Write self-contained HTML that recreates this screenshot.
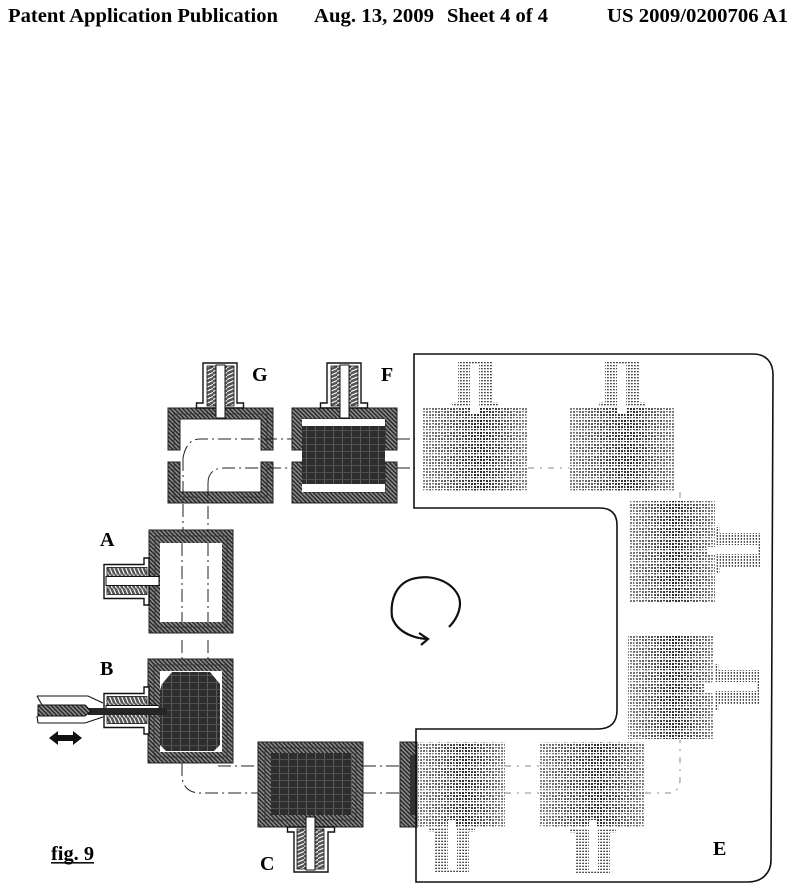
<!DOCTYPE html>
<html><head><meta charset="utf-8"><style>
html,body{margin:0;padding:0;background:#fff;width:805px;height:888px;overflow:hidden}
svg{display:block}
text{font-family:"Liberation Serif",serif;font-weight:bold;fill:#000}
</style></head><body>
<svg width="805" height="888" viewBox="0 0 805 888" xmlns="http://www.w3.org/2000/svg">
<defs>
<pattern id="h" width="3" height="3" patternUnits="userSpaceOnUse" patternTransform="rotate(45)">
<rect width="3" height="3" fill="#8c8c8c"/><rect width="3" height="1.5" fill="#2a2a2a"/>
</pattern>
<pattern id="d" width="9" height="7" patternUnits="userSpaceOnUse">
<rect width="9" height="7" fill="#2e2e2e"/><rect width="1" height="7" fill="#5c5c5c"/><rect width="9" height="1" y="3" fill="#505050"/>
</pattern>
<pattern id="g" width="9" height="12" patternUnits="userSpaceOnUse">
<rect width="9" height="12" fill="#fff"/>
<g fill="#2a2a2a">
<rect x="0" y="0" width="2" height="2"/><rect x="3" y="0" width="2" height="2"/><rect x="6" y="0" width="2" height="1.4"/>
<rect x="0" y="3" width="2" height="1.3"/><rect x="3" y="3" width="2" height="2"/><rect x="6" y="3" width="2" height="2"/>
<rect x="0" y="6" width="2" height="2"/><rect x="3" y="6" width="1.4" height="2"/><rect x="6" y="6" width="2" height="2"/>
<rect x="0" y="9" width="1.4" height="1.3"/><rect x="3" y="9" width="2" height="1.2"/><rect x="6" y="9" width="2" height="1.5"/>
</g>
</pattern>
<pattern id="g2" width="3" height="3" patternUnits="userSpaceOnUse">
<rect width="3" height="3" fill="#fff"/><rect width="1.8" height="1.3" fill="#444"/>
</pattern>
<pattern id="s" width="7" height="4" patternUnits="userSpaceOnUse">
<rect width="7" height="4" fill="#555"/><path d="M0 3.5L7 .5" stroke="#fff" stroke-width="1.1"/>
</pattern>
<linearGradient id="fade" x1="0" y1="0" x2="1" y2="0">
<stop offset="0" stop-color="#fff" stop-opacity=".4"/><stop offset=".55" stop-color="#fff" stop-opacity="0"/><stop offset="1" stop-color="#fff" stop-opacity=".4"/>
</linearGradient>
<g id="n">
<path d="M-23.5 0V-5H-17V-45H17V-5H23.5V0Z" fill="#fff" stroke="#111" stroke-width="1.4"/>
<rect x="-13" y="-42" width="9" height="40" fill="url(#s)" stroke="#111" stroke-width=".8"/>
<rect x="5" y="-42" width="9" height="40" fill="url(#s)" stroke="#111" stroke-width=".8"/>
<rect x="-4" y="-43" width="9" height="53" fill="#fff" stroke="#111" stroke-width="1"/>
</g>
<g id="gn">
<path d="M-23 0V-5H-17V-45H17V-5H23V0Z" fill="url(#g2)"/>
<rect x="-5" y="-42" width="9" height="52" fill="#fff"/>
</g>
</defs>
<rect width="805" height="888" fill="#fff"/>

<text x="8" y="22" font-size="20" textLength="270" lengthAdjust="spacingAndGlyphs">Patent Application Publication</text>
<text x="314" y="22" font-size="20" textLength="120" lengthAdjust="spacingAndGlyphs">Aug. 13, 2009</text>
<text x="447" y="22" font-size="20" textLength="101" lengthAdjust="spacingAndGlyphs">Sheet 4 of 4</text>
<text x="607" y="22" font-size="20" textLength="181" lengthAdjust="spacingAndGlyphs">US 2009/0200706 A1</text>

<!-- G -->
<path d="M168 408H273V450H261V419H180V450H168Z" fill="url(#h)" stroke="#222"/>
<path d="M168 462H180V492H261V462H273V503H168Z" fill="url(#h)" stroke="#222"/>
<path d="M174 450V414H267V450M174 462V497H200M240 497H267V462" fill="none" stroke="#333" stroke-width=".8"/>
<use href="#n" transform="translate(220,408)"/>

<!-- F -->
<path d="M292 408H397V450H385V419H304V450H292Z" fill="url(#h)" stroke="#222"/>
<path d="M292 462H304V492H385V462H397V503H292Z" fill="url(#h)" stroke="#222"/>
<rect x="302" y="419" width="83" height="73" fill="#fff"/>
<rect x="302" y="426" width="83" height="58" fill="url(#d)"/>
<use href="#n" transform="translate(344,408)"/>

<!-- A -->
<rect x="149" y="530" width="84" height="103" fill="url(#h)" stroke="#222"/>
<rect x="155" y="536" width="72" height="91" fill="none" stroke="#333" stroke-width=".8"/>
<rect x="160" y="543" width="62" height="79" fill="#fff"/>
<use href="#n" transform="translate(149,581.5) rotate(-90)"/>

<!-- B -->
<rect x="148" y="659" width="85" height="104" fill="url(#h)" stroke="#222"/>
<rect x="154" y="665" width="73" height="92" fill="none" stroke="#333" stroke-width=".8"/>
<rect x="160" y="671" width="62" height="81" fill="#fff"/>
<path d="M162 684L172 672H210L220 684V745L214 751H166L160 745V690Z" fill="url(#d)"/>
<use href="#n" transform="translate(149,710.5) rotate(-90)"/>
<rect x="88" y="708" width="79" height="7" fill="#262626"/>
<path d="M37 696H88L103 703M38 723H85L103 717M37 696L42 705M38 723L37 716" fill="none" stroke="#111" stroke-width="1.1"/>
<path d="M38 705H85L91 711L85 716H38Z" fill="url(#h)" stroke="#111"/>
<path d="M49 738L58 731V735H73V731L82 738L73 745V741H58V745Z" fill="#111"/>

<!-- C -->
<rect x="258" y="742" width="105" height="85" fill="url(#h)" stroke="#222"/>
<rect x="265" y="748" width="91" height="72" fill="none" stroke="#333" stroke-width=".8"/>
<rect x="271" y="753" width="81" height="62" fill="url(#d)"/>
<use href="#n" transform="translate(311,827) rotate(180)"/>

<!-- D partial -->
<rect x="400" y="742" width="17" height="85" fill="url(#h)" stroke="#222"/>
<rect x="410" y="755" width="7" height="60" fill="#333"/>

<!-- connectors -->
<g fill="none" stroke="#222" stroke-width="1" stroke-dasharray="13 4 2 4">
<path d="M183 458C185 447 190 439 200 439H292"/>
<path d="M208 483C208 473 214 468 225 468H292"/>
<path d="M397 439H415"/>
<path d="M397 468H415"/>
<path d="M183 458V530"/>
<path d="M208 483V530"/>
<path d="M182 543V622M208 543V622M182 640V659M208 640V659"/>
<path d="M182 763V777C183 787 189 793 200 793H258"/>
<path d="M218 766H258"/>
<path d="M363 766H400"/>
<path d="M363 793H400"/>
</g>
<g fill="none" stroke="#888" stroke-width="1" stroke-dasharray="6 6 2 6">
<path d="M528 468H569"/>
<path d="M505 766H540"/>
<path d="M505 793H540"/>
<path d="M645 793H668C676 793 680 788 680 780V740"/>
<path d="M680 492V500"/>
</g>

<!-- E outline -->
<path d="M414 354H753C766 354 773 362 773 375L771 860C771 873 762 882 748 882H416V729H598C611 729 617 722 617 710V525C617 514 611 508 600 508H414Z" fill="none" stroke="#111" stroke-width="1.6"/>

<!-- ghosts -->
<use href="#gn" transform="translate(475,407)"/>
<rect x="423" y="407" width="105" height="85" fill="url(#g)"/>
<rect x="423" y="407" width="105" height="85" fill="url(#fade)"/>
<rect x="471" y="407" width="8" height="7" fill="#fff"/>
<use href="#gn" transform="translate(622,407)"/>
<rect x="569" y="407" width="106" height="85" fill="url(#g)"/>
<rect x="569" y="407" width="106" height="85" fill="url(#fade)"/>
<rect x="618" y="407" width="8" height="7" fill="#fff"/>

<use href="#gn" transform="translate(715,550) rotate(90)"/>
<rect x="629" y="500" width="86" height="102" fill="url(#g)"/>
<rect x="629" y="500" width="86" height="102" fill="url(#fade)"/>
<rect x="707" y="547" width="8" height="8" fill="#fff"/>
<use href="#gn" transform="translate(714,687) rotate(90)"/>
<rect x="628" y="635" width="86" height="104" fill="url(#g)"/>
<rect x="628" y="635" width="86" height="104" fill="url(#fade)"/>
<rect x="705" y="684" width="9" height="9" fill="#fff"/>

<use href="#gn" transform="translate(593,828) rotate(180)"/>
<rect x="540" y="742" width="105" height="86" fill="url(#g)"/>
<rect x="540" y="742" width="105" height="86" fill="url(#fade)"/>
<rect x="589" y="820" width="8" height="8" fill="#fff"/>
<use href="#gn" transform="translate(452,827) rotate(180)"/>
<rect x="418" y="742" width="87" height="85" fill="url(#g)"/>
<rect x="418" y="742" width="87" height="85" fill="url(#fade)"/>
<rect x="448" y="820" width="8" height="7" fill="#fff"/>

<!-- rotation arrow -->
<path d="M449 627C458 618 463 605 458 595C450 580 430 574 412 579C396 584 390 600 392 617C396 630 410 638 427 639" fill="none" stroke="#111" stroke-width="2.2"/>
<path d="M419 633L428 639L421 645" fill="none" stroke="#111" stroke-width="2.2"/>

<!-- labels -->
<text x="252" y="381" font-size="20">G</text>
<text x="381" y="381" font-size="20">F</text>
<text x="100" y="546" font-size="20">A</text>
<text x="100" y="675" font-size="20">B</text>
<text x="260" y="870" font-size="20">C</text>
<text x="713" y="855" font-size="20">E</text>
<text x="51" y="860" font-size="20" textLength="43" lengthAdjust="spacingAndGlyphs">fig. 9</text>
<rect x="51" y="862" width="43" height="1.6" fill="#111"/>
</svg>
</body></html>
